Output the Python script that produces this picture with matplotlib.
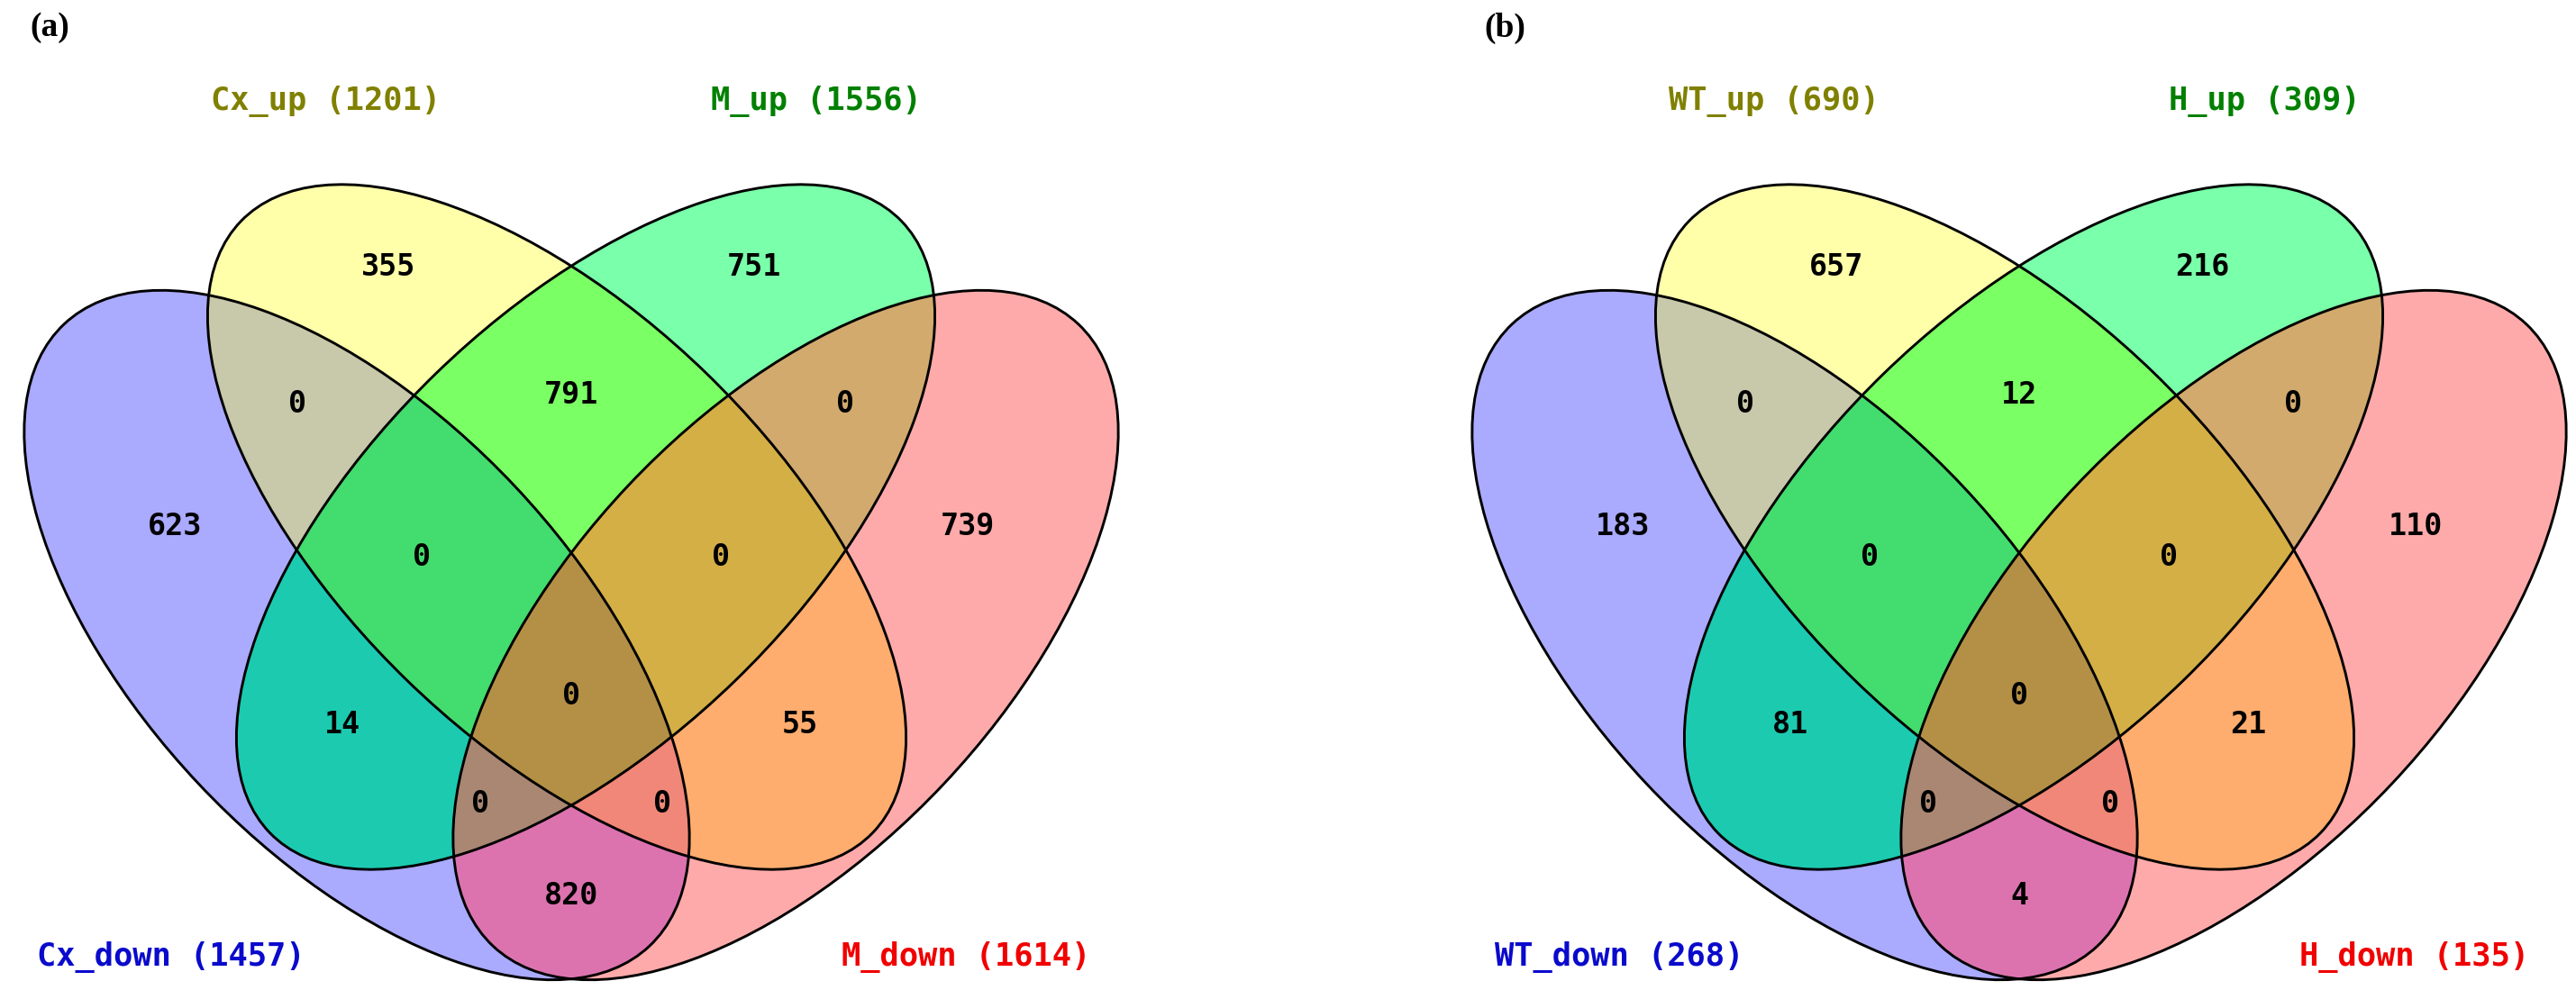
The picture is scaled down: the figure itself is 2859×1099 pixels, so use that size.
import numpy as np
import matplotlib
matplotlib.use("Agg")
import matplotlib.pyplot as plt
from matplotlib.patches import Ellipse

# ---------------- data ----------------
# set order: (down-left/blue, up-left/yellow, up-right/green, down-right/red)
region_codes = ["0100", "0010", "1100", "0110", "0011", "1000", "1110", "0111",
                "0001", "1010", "1111", "0101", "1011", "1101", "1001"]

names_a = ["Cx_down", "Cx_up", "M_up", "M_down"]
totals_a = [1457, 1201, 1556, 1614]
counts_a = [355, 751, 0, 791, 0, 623, 0, 0, 739, 14, 0, 55, 0, 0, 820]

names_b = ["WT_down", "WT_up", "H_up", "H_down"]
totals_b = [268, 690, 309, 135]
counts_b = [657, 216, 0, 12, 0, 183, 0, 0, 110, 81, 0, 21, 0, 0, 4]

panel_tags = ["(a)", "(b)"]

# ---------------- layout (pixel space) ----------------
W, H = 2859, 1099
panel_dx = [0, 1607]
tag_pos = [(55, 31), (1670, 31)]

# ellipses: (cx, cy, width, height, angle) ; y downward
ell_geom = [
    (396, 705, 2 * 474, 2 * 241, 46.75),   # blue
    (618, 585, 2 * 488, 2 * 238, 44.1),    # yellow
    (650, 585, 2 * 488, 2 * 238, -44.1),   # green
    (872, 705, 2 * 474, 2 * 241, -46.75),  # red
]

region_pos = {
    "0100": (431, 297), "0010": (837, 297), "1100": (330, 448), "0110": (634, 438),
    "0011": (938, 448), "1000": (194, 585), "1110": (468, 618), "0111": (800, 618),
    "0001": (1074, 585), "1010": (380, 805), "1111": (634, 772), "0101": (888, 805),
    "1011": (533, 893), "1101": (735, 893), "1001": (634, 995),
}

region_colors = {
    "1000": "#AAAAFF", "0100": "#FFFFAA", "0010": "#7AFFAA", "0001": "#FFAAAA",
    "1100": "#C8C8AA", "1010": "#1CCAB0", "1001": "#DC73AF", "0110": "#7AFF64",
    "0101": "#FFAD6E", "0011": "#D2AA6E", "1110": "#43DC6E", "1101": "#F08778",
    "1011": "#AA8773", "0111": "#D4AF46", "1111": "#B49046",
}

label_pos = [(190, 1062), (362, 112), (906, 112), (1072, 1062)]
label_colors = ["#0A0ACC", "#808000", "#008000", "#F00000"]

fig = plt.figure(figsize=(W / 100, H / 100), dpi=100)
ax = fig.add_axes([0, 0, 1, 1])
ax.set_xlim(0, W)
ax.set_ylim(H, 0)
ax.axis("off")

# pixel grid for region fills
xs = np.arange(W) + 0.5
ys = np.arange(H) + 0.5
XX, YY = np.meshgrid(xs, ys)
img = np.ones((H, W, 3))


def inside(cx, cy, w, h, ang):
    t = np.deg2rad(ang)
    dx = XX - cx
    dy = YY - cy
    u = dx * np.cos(t) + dy * np.sin(t)
    v = -dx * np.sin(t) + dy * np.cos(t)
    return (u / (w / 2)) ** 2 + (v / (h / 2)) ** 2 <= 1.0


panels = [(names_a, totals_a, counts_a), (names_b, totals_b, counts_b)]

for p, (names, totals, counts) in enumerate(panels):
    off = panel_dx[p]
    masks = [inside(cx + off, cy, w, h, a) for (cx, cy, w, h, a) in ell_geom]
    code = np.zeros((H, W), dtype=int)
    for m in masks:
        code = code * 2 + m.astype(int)
    for rc, col in region_colors.items():
        sel = code == int(rc, 2)
        img[sel] = matplotlib.colors.to_rgb(col)

ax.imshow(img, extent=(0, W, H, 0), origin="upper", interpolation="antialiased",
          zorder=0, aspect="auto")

for p, (names, totals, counts) in enumerate(panels):
    off = panel_dx[p]
    for (cx, cy, w, h, a) in ell_geom:
        ax.add_patch(Ellipse((cx + off, cy), w, h, angle=a, fill=False,
                             edgecolor="black", lw=2.1, zorder=2))
    for rc, n in zip(region_codes, counts):
        x, y = region_pos[rc]
        ax.text(x + off, y, str(n), ha="center", va="center",
                fontfamily="DejaVu Sans Mono", fontweight="bold", fontsize=24,
                color="black", zorder=3)
    for i in range(4):
        x, y = label_pos[i]
        ax.text(x + off, y, f"{names[i]} ({totals[i]})", ha="center", va="center",
                fontfamily="DejaVu Sans Mono", fontweight="bold", fontsize=25.5,
                color=label_colors[i], zorder=3)
    tx, ty = tag_pos[p]
    ax.text(tx, ty, panel_tags[p], ha="center", va="center",
            fontfamily="Liberation Serif", fontweight="bold", fontsize=27,
            color="black", zorder=3)

fig.savefig("out.png", dpi=100)
